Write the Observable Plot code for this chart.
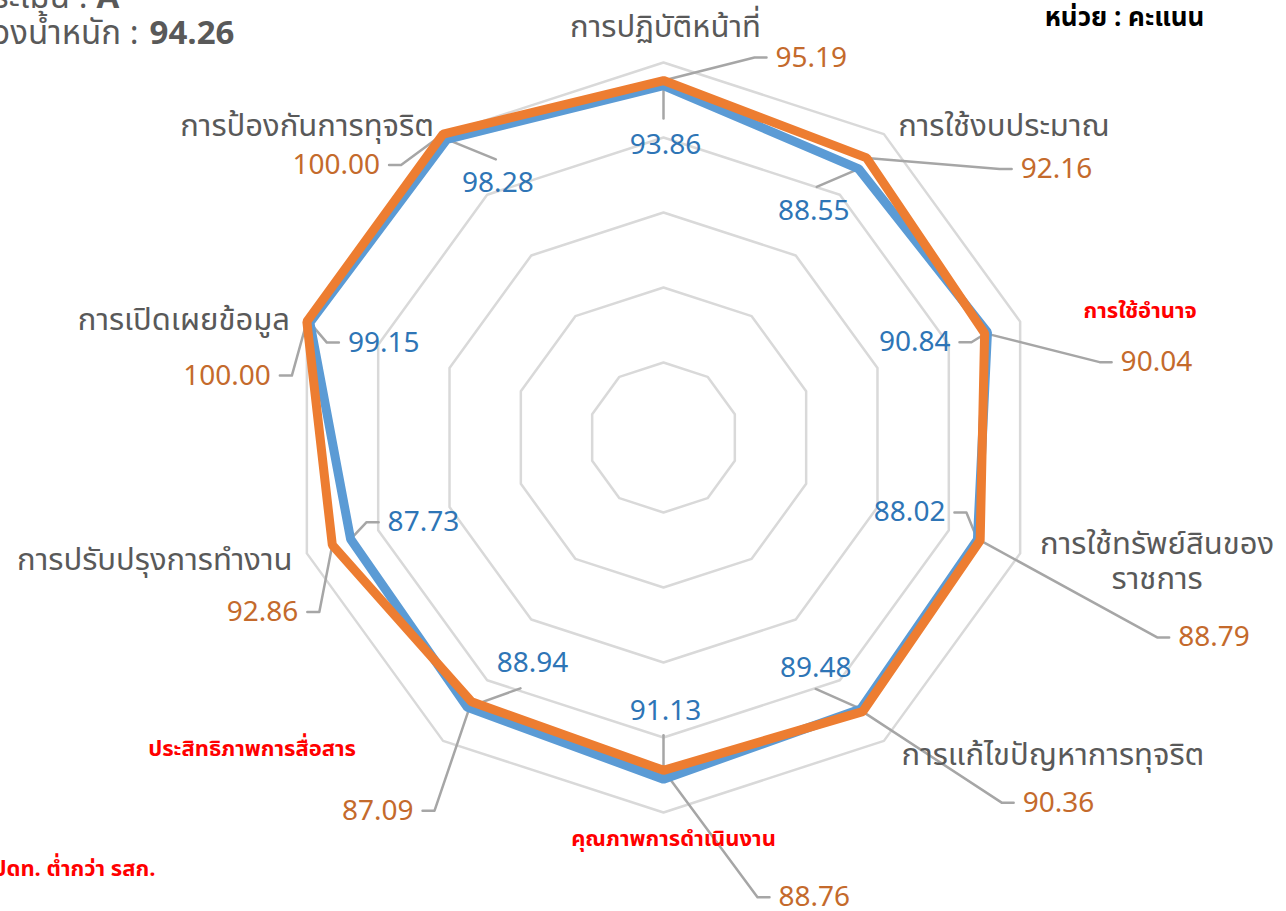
<!DOCTYPE html>
<html><head><meta charset="utf-8">
<script src="https://cdn.jsdelivr.net/npm/d3@7"></script>
<script src="https://cdn.jsdelivr.net/npm/@observablehq/plot@0.6"></script>
<style>body{margin:0;background:#fff;} svg{display:block;overflow:hidden}</style>
</head><body><div id="chart"></div>
<script>
// ---- data ----
const categories = ["การปฏิบัติหน้าที่","การใช้งบประมาณ","การใช้อำนาจ","การใช้ทรัพย์สินของ\nราชการ","การแก้ไขปัญหาการทุจริต","คุณภาพการดำเนินงาน","ประสิทธิภาพการสื่อสาร","การปรับปรุงการทำงาน","การเปิดเผยข้อมูล","การป้องกันการทุจริต"];
const seriesNames = ["ปดท.", "รสก."];
const orangeValues = [95.19, 92.16, 90.04, 88.79, 90.36, 88.76, 87.09, 92.86, 100.00, 100.00];
const blueValues   = [93.86, 88.55, 90.84, 88.02, 89.48, 91.13, 88.94, 87.73, 99.15, 98.28];
const gridTicks = [20, 40, 60, 80, 100];
const titleLine1 = ["ระดับผลการประเมิน :", "A"];
const titleLine2 = ["คะแนนถ่วงน้ำหนัก :", "94.26"];
const unitText = "หน่วย : คะแนน";
const noteText = "ตัวชี้วัดที่ ปดท. ต่ำกว่า รสก.";

// ---- layout (pixels) ----
const W = 1286, H = 911, CX = 663, CY = 437, R = 375, VMAX = 100;
const k = R / VMAX;
const catOffsets = [[2,-37],[120,-9],[120,-11],[137,7],[169,13],[10,26],[-191,8],[-152,5],[-123,-3],[-136,-9]];
const orangeLab = [[112,-23,"start"],[154,11,"start"],[136,29,"start"],[198,97,"start"],[160,91,"start"],[115,127,"start"],[-58,109,"end"],[-34,67,"end"],[-36,54,"end"],[-63,31,"end"]];
const blueLab = [[2,60,"middle",0,33],[-45,42,"middle",-42,18],[-37,10,"end"],[-32,-27,"end"],[-45,-41,"middle",-45,-20],[2,-68,"middle",0,-44],[65,-44,"middle",53,-19],[37,-17,"start"],[38,20,"start"],[51,44,"middle",49,20]];

const ORANGE = "#ED7D31", BLUE = "#5B9BD5", ORANGE_T = "#C46A2C", BLUE_T = "#2E75B6", GRAY_T = "#595959";
const FONT = "Tahoma, 'Noto Sans Thai', 'Noto Sans', sans-serif";

const n = categories.length;
const ang = i => i * 2 * Math.PI / n;
const px = (v, i) => v * Math.sin(ang(i));
const py = (v, i) => v * Math.cos(ang(i));
const offX = d => d / k, offY = d => -d / k;
const absX = p => (p - CX) / k, absY = p => (CY - p) / k;

const grid = gridTicks.flatMap(t => categories.map((c, i) => ({t, x: px(t, i), y: py(t, i)})));
const series = [
  ...categories.map((c, i) => ({s: seriesNames[1], x: px(blueValues[i], i), y: py(blueValues[i], i)})),
  ...categories.map((c, i) => ({s: seriesNames[0], x: px(orangeValues[i], i), y: py(orangeValues[i], i)}))
];

function labels(values, lay, cls) {
  const texts = [], leaders = [];
  values.forEach((v, i) => {
    const x0 = px(v, i), y0 = py(v, i);
    const [dx, dy, anchor, tx, ty] = lay[i];
    const lx = x0 + offX(dx), ly = y0 + offY(dy);
    texts.push({x: lx, y: ly, text: v.toFixed(2), anchor});
    let pts;
    if (anchor === "start") pts = [[0,0],[dx-21,dy],[dx-9,dy]];
    else if (anchor === "end") pts = [[0,0],[dx+21,dy],[dx+9,dy]];
    else pts = [[0,0],[tx,ty]];
    pts.forEach(([a,b]) => leaders.push({id: cls + i, x: x0 + offX(a), y: y0 + offY(b)}));
  });
  return {texts, leaders};
}
const oL = labels(orangeValues, orangeLab, "o");
const bL = labels(blueValues, blueLab, "b");

const cats = categories.map((c, i) => ({
  text: c,
  x: px(VMAX, i) + offX(catOffsets[i][0]),
  y: py(VMAX, i) + offY(catOffsets[i][1]),
  red: blueValues[i] > orangeValues[i]
}));

const textMark = (data, opts) => ["start","end","middle"].map(a =>
  Plot.text(data.filter(d => d.anchor === a), {x: "x", y: "y", text: "text", textAnchor: a, fontFamily: FONT, ...opts}));

const chart = Plot.plot({
  width: W, height: H, margin: 0,
  x: {domain: [absX(0), absX(W)], range: [0, W], axis: null},
  y: {domain: [absY(H), absY(0)], range: [H, 0], axis: null},
  style: {fontFamily: FONT, background: "#fff"},
  marks: [
    Plot.line(grid, {x: "x", y: "y", z: "t", curve: "linear-closed", stroke: "#D9D9D9", strokeWidth: 2.5}),
    Plot.line(oL.leaders.concat(bL.leaders), {x: "x", y: "y", z: "id", stroke: "#A6A6A6", strokeWidth: 2.5}),
    Plot.line(series, {x: "x", y: "y", z: "s", curve: "linear-closed", stroke: d => d.s, strokeWidth: 9, strokeLinejoin: "miter"}),
    ...textMark(oL.texts, {fill: ORANGE_T, fontSize: 28}),
    ...textMark(bL.texts, {fill: BLUE_T, fontSize: 28}),
    Plot.text(cats.filter(d => !d.red), {x: "x", y: "y", text: "text", fill: GRAY_T, fontSize: 31, lineHeight: 1.13}),
    Plot.text(cats.filter(d => d.red), {x: "x", y: "y", text: "text", fill: "#FF0000", fontSize: 22, fontWeight: "bold"}),
    Plot.text([titleLine1[0]], {x: absX(87), y: absY(-3), text: d => d, textAnchor: "end", fill: GRAY_T, fontSize: 33}),
    Plot.text([titleLine1[1]], {x: absX(96), y: absY(-3), text: d => d, textAnchor: "start", fill: GRAY_T, fontSize: 33, fontWeight: "bold"}),
    Plot.text([titleLine2[0]], {x: absX(138), y: absY(33), text: d => d, textAnchor: "end", fill: GRAY_T, fontSize: 33}),
    Plot.text([titleLine2[1]], {x: absX(149), y: absY(33), text: d => d, textAnchor: "start", fill: GRAY_T, fontSize: 33, fontWeight: "bold"}),
    Plot.text([unitText], {x: absX(1124), y: absY(17), text: d => d, fill: "#000", fontSize: 26, fontWeight: "bold"}),
    Plot.text([noteText], {x: absX(155), y: absY(868), text: d => d, textAnchor: "end", fill: "#FF0000", fontSize: 22, fontWeight: "bold"})
  ],
  color: {domain: seriesNames, range: [ORANGE, BLUE]}
});
document.getElementById("chart").append(chart);
</script>
</body></html>
